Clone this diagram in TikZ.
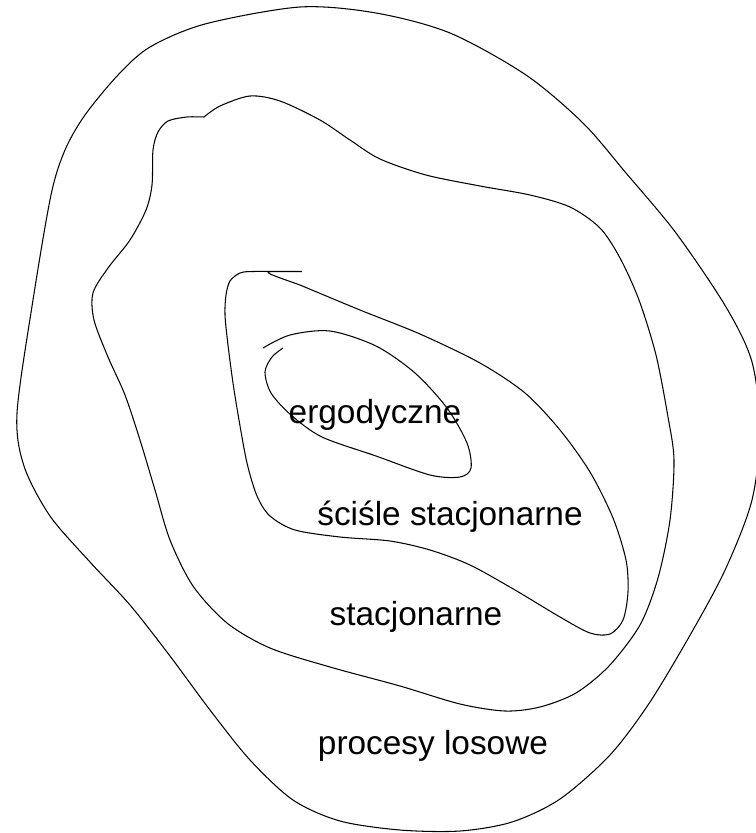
\documentclass[tikz,border=0pt]{standalone}
\usepackage{fontspec}
\setmainfont{Liberation Sans}
\usepackage{tikz}
\tikzset{
% Two styles for the nested regions: the outline and the label
region line/.style={draw,line width=0.6pt},
region label/.style={anchor=base,inner sep=0pt,font=\fontsize{19}{23}\selectfont}
}

\begin{document}
\begin{tikzpicture}[x=0.02cm,y=-0.02cm]
\useasboundingbox (0,0) rectangle (756,833);
\clip (0,0) rectangle (756,833);
% procesy losowe
\draw[region line] plot[smooth cycle] coordinates {(300,7) (205,24) (150,47) (118,75) (85,115) (65,150) (51,195) (33,300) (17,413) (24,466) (50,516) (90,562) (130,605) (170,656) (210,710) (250,760) (293,800) (340,821) (400,830) (460,831) (512,822) (560,799) (610,755) (650,702) (693,630) (726,568) (752,500) (760,430) (752,362) (726,307) (676,233) (626,173) (583,123) (526,75) (450,33) (376,13)};
% stacjonarne
\draw[region line] plot[smooth] coordinates {(204,117) (220,106) (250,96) (280,101) (320,120) (350,140) (380,159) (426,175) (480,186) (530,195) (570,207) (600,228) (620,258) (639,300) (656,355) (668,417) (674,460) (670,520) (658,578) (640,625) (609,666) (576,693) (540,707) (505,711) (460,704) (400,686) (330,667) (270,648) (227,623) (193,586) (170,540) (155,490) (140,440) (125,395) (108,357) (94,320) (93,293) (108,268) (130,240) (146,210) (152,185) (153,150) (158,132) (168,121) (187,117) (204,117)};
% scisle stacjonarne
\draw[region line] plot[smooth] coordinates {(302,271.5) (253,271.5) (240,273) (230,281) (226,295) (225,315) (228,345) (233,383) (239,420) (247,463) (257,496) (270,516) (295,530) (340,537) (390,541) (430,550) (470,565) (515,590) (560,617) (590,633) (610,634) (623,620) (628,592) (626,560) (613,518) (590,472) (560,430) (525,393) (480,363) (420,334) (360,310) (300,285)}
  .. controls (272,275) and (262,272) .. (272,271.5) -- (302,271.5);
% ergodyczne
\draw[region line] plot[smooth] coordinates {(263,348) (290,335) (330,331) (376,346) (415,373) (447,408) (467,443) (471,468) (460,477) (430,475) (376,456) (322,437) (291,415) (271,393) (265,372) (272,357) (283,348)};

\node[region label] (ergo) at (375,423) {ergodyczne};
\node[region label] (strict) at (450,525) {ściśle stacjonarne};
\node[region label] (stat) at (416,625) {stacjonarne};
\node[region label] (random) at (433,754) {procesy losowe};
\end{tikzpicture}
\end{document}
